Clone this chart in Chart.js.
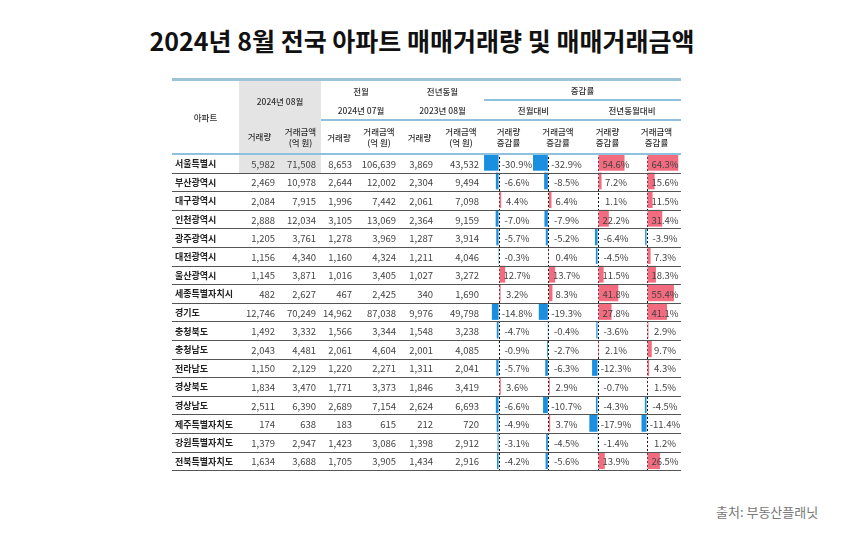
<!DOCTYPE html>
<html><head><meta charset="utf-8">
<script src="https://cdn.jsdelivr.net/npm/chart.js@4"></script>
<style>
  body { margin:0; width:860px; height:533px; background:#fff; font-family:"Noto Sans CJK KR","Noto Sans",sans-serif; position:relative; overflow:hidden; }
  h1 { position:absolute; top:22px; left:0; width:844px; text-align:center; margin:0; font-size:25px; font-weight:700; color:#111; }
  #src { position:absolute; left:716px; top:502px; font-size:13px; color:#777; }
  table { position:absolute; left:172px; top:78px; border-collapse:collapse; table-layout:fixed; z-index:2; font-size:9.5px; color:#444; }
  td, th { padding:0; white-space:nowrap; overflow:visible; }
  th { font-weight:500; font-size:8.5px; color:#333; text-align:center; }
  thead tr.r1 th { height:18px; }
  thead tr.r2 th { height:18px; }
  thead tr.r3 th { height:32px; line-height:11px; }
  .hl { border-bottom:2px solid #8fc0dd; }
  .gray { background:#e4e4e4; }
  tbody td { height:17.6px; border-bottom:1.5px solid #555; text-align:right; padding-right:5px; }
  tbody td.name { text-align:left; padding-left:3px; font-weight:700; color:#222; font-size:9px; }
  tbody td.pct { text-align:center; padding-left:17px; padding-right:0; }
  .cv { position:absolute; z-index:1; }
</style></head>
<body>
<h1>2024년 8월 전국 아파트 매매거래량 및 매매거래금액</h1>
<div id="src">출처: 부동산플래닛</div>
<table id="tbl">
  <colgroup>
    <col style="width:67px"><col style="width:41px"><col style="width:41px"><col style="width:36px"><col style="width:44px">
    <col style="width:37px"><col style="width:46px"><col style="width:49px"><col style="width:50px"><col style="width:49px"><col style="width:49px">
  </colgroup>
  <thead>
    <tr class="r1" style="border-top:3px solid #9cc3d8">
      <th rowspan="3" class="hl">아파트</th>
      <th colspan="2" rowspan="2" class="gray">2024년 08월</th>
      <th colspan="2">전월</th><th colspan="2">전년동월</th>
      <th colspan="4" class="hl">증감률</th>
    </tr>
    <tr class="r2">
      <th colspan="2" class="hl">2024년 07월</th><th colspan="2" class="hl">2023년 08월</th>
      <th colspan="2" class="hl">전월대비</th><th colspan="2" class="hl">전년동월대비</th>
    </tr>
    <tr class="r3">
      <th class="gray hl">거래량</th><th class="gray hl">거래금액<br>(억 원)</th>
      <th class="hl">거래량</th><th class="hl">거래금액<br>(억 원)</th>
      <th class="hl">거래량</th><th class="hl">거래금액<br>(억 원)</th>
      <th class="hl">거래량<br>증감률</th><th class="hl">거래금액<br>증감률</th>
      <th class="hl">거래량<br>증감률</th><th class="hl">거래금액<br>증감률</th>
    </tr>
  </thead>
  <tbody id="body"></tbody>
</table>
<canvas id="c0" class="cv"></canvas><canvas id="c1" class="cv"></canvas>
<canvas id="c2" class="cv"></canvas><canvas id="c3" class="cv"></canvas>
<script>
const regions = ["서울특별시","부산광역시","대구광역시","인천광역시","광주광역시","대전광역시","울산광역시","세종특별자치시","경기도","충청북도","충청남도","전라남도","경상북도","경상남도","제주특별자치도","강원특별자치도","전북특별자치도"];
const volAug24 = [5982,2469,2084,2888,1205,1156,1145,482,12746,1492,2043,1150,1834,2511,174,1379,1634];
const amtAug24 = [71508,10978,7915,12034,3761,4340,3871,2627,70249,3332,4481,2129,3470,6390,638,2947,3688];
const volJul24 = [8653,2644,1996,3105,1278,1160,1016,467,14962,1566,2061,1220,1771,2689,183,1423,1705];
const amtJul24 = [106639,12002,7442,13069,3969,4324,3405,2425,87038,3344,4604,2271,3373,7154,615,3086,3905];
const volAug23 = [3869,2304,2061,2364,1287,1211,1027,340,9976,1548,2001,1311,1846,2624,212,1398,1434];
const amtAug23 = [43532,9494,7098,9159,3914,4046,3272,1690,49798,3238,4085,2041,3419,6693,720,2912,2916];
const volMoM = [-30.9,-6.6,4.4,-7.0,-5.7,-0.3,12.7,3.2,-14.8,-4.7,-0.9,-5.7,3.6,-6.6,-4.9,-3.1,-4.2];
const amtMoM = [-32.9,-8.5,6.4,-7.9,-5.2,0.4,13.7,8.3,-19.3,-0.4,-2.7,-6.3,2.9,-10.7,3.7,-4.5,-5.6];
const volYoY = [54.6,7.2,1.1,22.2,-6.4,-4.5,11.5,41.8,27.8,-3.6,2.1,-12.3,-0.7,-4.3,-17.9,-1.4,13.9];
const amtYoY = [64.3,15.6,11.5,31.4,-3.9,7.3,18.3,55.4,41.1,2.9,9.7,4.3,1.5,-4.5,-11.4,1.2,26.5];

const fmt = v => v.toLocaleString("en-US");
const pct = v => v.toFixed(1) + "%";
const growth = [volMoM, amtMoM, volYoY, amtYoY];

document.getElementById("body").innerHTML = regions.map((r, i) => `
  <tr>
    <td class="name">${r}</td>
    <td${i === 0 ? ' class="gray"' : ''}>${fmt(volAug24[i])}</td>
    <td${i === 0 ? ' class="gray"' : ''}>${fmt(amtAug24[i])}</td>
    <td>${fmt(volJul24[i])}</td><td>${fmt(amtJul24[i])}</td>
    <td>${fmt(volAug23[i])}</td><td>${fmt(amtAug23[i])}</td>
    ${growth.map(g => `<td class="pct">${pct(g[i])}</td>`).join("")}
  </tr>`).join("");

// data bar columns
const tbl = document.getElementById("tbl");
const firstRow = document.querySelector("#body tr");
const top0 = tbl.offsetTop + firstRow.offsetTop;
const bodyH = document.getElementById("body").offsetHeight;
const pctCells = firstRow.querySelectorAll("td.pct");

growth.forEach((g, k) => {
  const cell = pctCells[k];
  const cv = document.getElementById("c" + k);
  const w = cell.offsetWidth;
  cv.style.left = (tbl.offsetLeft + cell.offsetLeft) + "px";
  cv.style.top = top0 + "px";
  cv.style.width = w + "px";
  cv.style.height = bodyH + "px";
  new Chart(cv, {
    type: "bar",
    data: {
      labels: regions,
      datasets: [{
        data: g,
        backgroundColor: g.map(v => v < 0 ? "#1a8fe0" : "#f26b7e"),
        categoryPercentage: 1,
        barPercentage: 0.9,
      }],
    },
    options: {
      indexAxis: "y",
      responsive: false,
      maintainAspectRatio: false,
      animation: false,
      layout: { padding: 0 },
      plugins: { legend: { display: false }, tooltip: { enabled: false } },
      scales: {
        x: {
          min: -31, max: 70,
          afterBuildTicks: ax => { ax.ticks = [{ value: 0 }]; },
          ticks: { display: false },
          grid: { color: "#111", lineWidth: 1, drawTicks: false },
          border: { display: false, dash: [2, 2] },
        },
        y: { display: false },
      },
    },
  });
});
</script>
</body></html>
